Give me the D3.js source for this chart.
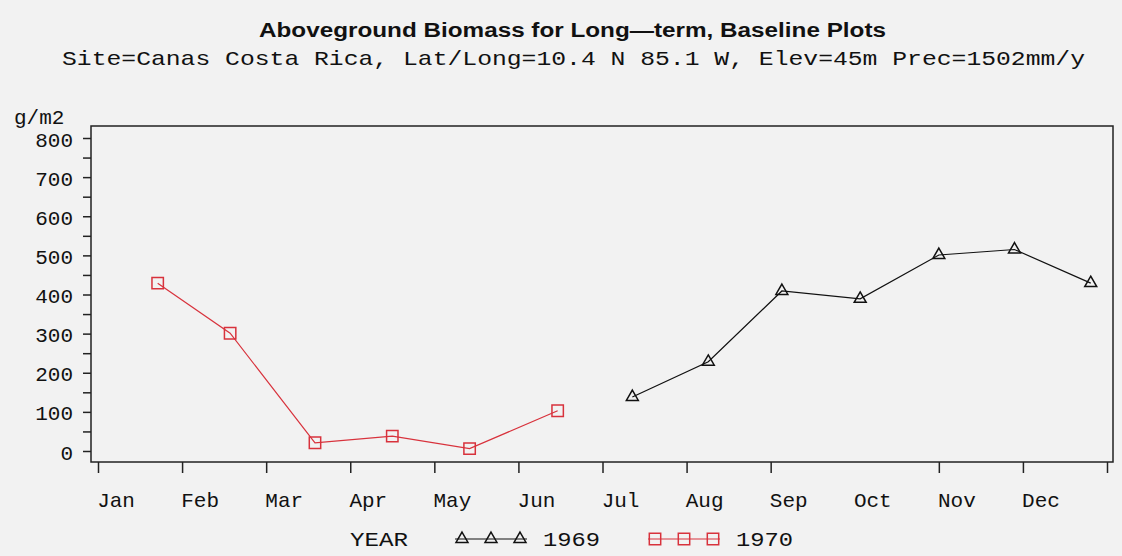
<!DOCTYPE html>
<html>
<head>
<meta charset="utf-8">
<script src="https://cdn.jsdelivr.net/npm/d3@7"></script>
<style>
  html, body { margin: 0; padding: 0; background: #f2f2f2; }
  svg { display: block; }
  .mono { font-family: "Liberation Mono", "Courier New", monospace; fill: #111; }
</style>
</head>
<body>
<div id="chart"></div>
<script>
// sampling dates and biomass (g/m2)
const dates1969 = ['1969-07-12', '1969-08-09', '1969-09-05', '1969-10-03', '1969-11-01', '1969-11-28', '1969-12-26']
const biomass1969 = [138, 228, 409, 389, 501, 515, 429]
const dates1970 = ['1970-01-23', '1970-02-17', '1970-03-19', '1970-04-16', '1970-05-14', '1970-06-15']
const biomass1970 = [429, 301, 21, 38, 6, 103]

const monthLabels = ['Jan', 'Feb', 'Mar', 'Apr', 'May', 'Jun', 'Jul', 'Aug', 'Sep', 'Oct', 'Nov', 'Dec']
const monthTicks = [0, 1, 2, 3, 4, 5, 6, 7, 8, 10, 11, 12] // original has no tick at Oct 1
const yTicks = d3.range(0, 801, 50)
const years = ['1969', '1970']

const title = 'Aboveground Biomass for Long\u2014term, Baseline Plots'
const subtitle = 'Site=Canas Costa Rica, Lat/Long=10.4 N 85.1 W, Elev=45m Prec=1502mm/y'

const width = 1122, height = 556
const frame = { left: 91, right: 1113, top: 126, bottom: 462 }
const red = '#d8323c'

// date -> fractional month of the year (each month gets the same width)
const parse = d3.timeParse('%Y-%m-%d')
function monthPos(s) {
    const d = parse(s)
    const days = new Date(d.getFullYear(), d.getMonth() + 1, 0).getDate()
    return d.getMonth() + (d.getDate() - 1) / days
}

const series = [
    { year: years[0], color: '#111', symbol: d3.symbolTriangle, size: 62,
      points: dates1969.map((d, i) => ({ m: monthPos(d), v: biomass1969[i] })) },
    { year: years[1], color: red, symbol: d3.symbolSquare, size: 130,
      points: dates1970.map((d, i) => ({ m: monthPos(d), v: biomass1970[i] })) }
]

const x = d3.scaleLinear().domain([0, 12]).range([98, 1107])
const y = d3.scaleLinear().domain([0, 800]).range([451, 138])

const svg = d3.select('#chart').append('svg')
    .attr('width', width)
    .attr('height', height)

// titles
svg.append('text')
    .attr('x', 259).attr('y', 37)
    .attr('textLength', 627).attr('lengthAdjust', 'spacingAndGlyphs')
    .attr('font-family', '"Liberation Sans", Arial, sans-serif')
    .attr('font-weight', 'bold')
    .attr('font-size', 20)
    .attr('fill', '#111')
    .text(title)

svg.append('text')
    .attr('class', 'mono')
    .attr('x', 62).attr('y', 65)
    .attr('textLength', 1023).attr('lengthAdjust', 'spacingAndGlyphs')
    .attr('font-size', 21)
    .text(subtitle)

// y axis
const yAxis = svg.append('g')
    .attr('transform', `translate(${frame.left},0)`)
    .call(d3.axisLeft(y).tickValues(yTicks).tickSize(8).tickFormat(''))
yAxis.select('.domain').remove()
yAxis.selectAll('line').attr('stroke', '#222').attr('stroke-width', 1.5)

svg.append('g').selectAll('text')
    .data(yTicks.filter(d => d % 100 === 0))
    .join('text')
    .attr('class', 'mono')
    .attr('x', 73)
    .attr('y', d => y(d) + 3)
    .attr('text-anchor', 'end')
    .attr('dominant-baseline', 'central')
    .attr('font-size', 21)
    .text(d => d)

svg.append('text')
    .attr('class', 'mono')
    .attr('x', 14).attr('y', 124)
    .attr('font-size', 21)
    .text('g/m2')

// x axis
const xAxis = svg.append('g')
    .attr('transform', `translate(0,${frame.bottom})`)
    .call(d3.axisBottom(x).tickValues(monthTicks).tickSize(11).tickFormat(''))
xAxis.select('.domain').remove()
xAxis.selectAll('line').attr('stroke', '#222').attr('stroke-width', 1.5)

svg.append('g').selectAll('text')
    .data(monthLabels)
    .join('text')
    .attr('class', 'mono')
    .attr('x', (d, i) => x(i + 0.215))
    .attr('y', 507)
    .attr('text-anchor', 'middle')
    .attr('font-size', 21)
    .text(d => d)

// frame
svg.append('rect')
    .attr('x', frame.left).attr('y', frame.top)
    .attr('width', frame.right - frame.left)
    .attr('height', frame.bottom - frame.top)
    .attr('fill', 'none')
    .attr('stroke', '#222')
    .attr('stroke-width', 1.5)

// lines and markers
const line = d3.line().x(d => x(d.m)).y(d => y(d.v))

series.forEach(s => {
    const sym = d3.symbol().type(s.symbol).size(s.size)
    svg.append('path')
        .datum(s.points)
        .attr('d', line)
        .attr('fill', 'none')
        .attr('stroke', s.color)
        .attr('stroke-width', 1.2)

    svg.append('g').selectAll('path')
        .data(s.points)
        .join('path')
        .attr('transform', d => `translate(${x(d.m)},${y(d.v)})`)
        .attr('d', sym())
        .attr('fill', 'none')
        .attr('stroke', s.color)
        .attr('stroke-width', 1.5)
})

// legend
const legend = svg.append('g').attr('class', 'legend')
legend.append('text')
    .attr('class', 'mono')
    .attr('x', 350).attr('y', 546)
    .attr('textLength', 58).attr('lengthAdjust', 'spacingAndGlyphs')
    .attr('font-size', 20)
    .text('YEAR')

const legendX = [455, 648]
series.forEach((s, i) => {
    const x0 = legendX[i]
    const sym = d3.symbol().type(s.symbol).size(s.size)
    const g = legend.append('g')
    g.append('line')
        .attr('x1', x0).attr('x2', x0 + 72)
        .attr('y1', 539).attr('y2', 539)
        .attr('stroke', s.color)
        .attr('stroke-width', 1.2)
    g.selectAll('path')
        .data([7, 36, 65])
        .join('path')
        .attr('transform', d => `translate(${x0 + d},539)`)
        .attr('d', sym())
        .attr('fill', 'none')
        .attr('stroke', s.color)
        .attr('stroke-width', 1.5)
    g.append('text')
        .attr('class', 'mono')
        .attr('x', x0 + 88).attr('y', 546)
        .attr('textLength', 57).attr('lengthAdjust', 'spacingAndGlyphs')
        .attr('font-size', 21)
        .text(s.year)
})
</script>
</body>
</html>
